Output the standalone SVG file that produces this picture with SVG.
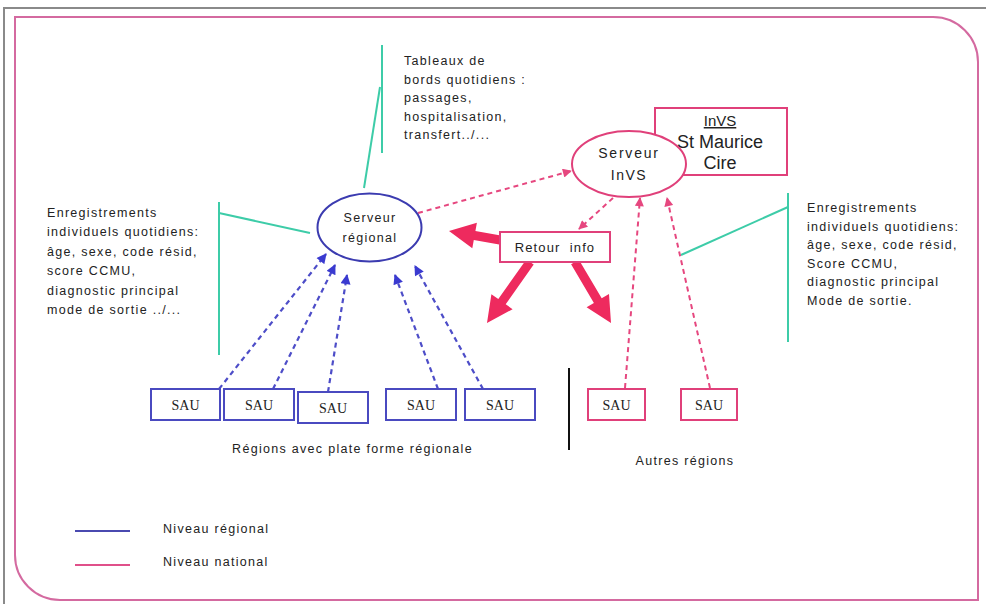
<svg xmlns="http://www.w3.org/2000/svg" width="986" height="604" viewBox="0 0 986 604">
<defs>
<style>
.t{font-family:"Liberation Sans",Arial,sans-serif;font-size:12.5px;fill:#222;letter-spacing:1.3px}
.sau{font-family:"Liberation Serif","Times New Roman",serif;font-size:14px;fill:#222}
.bbox{fill:#fff;stroke:#4a4ac0;stroke-width:2}
.pbox{fill:#fff;stroke:#e0407a;stroke-width:2}
.teal{stroke:#3dcca8;stroke-width:2;fill:none}
.bd{stroke:#4d4dc8;stroke-width:2.2;stroke-dasharray:5 4;fill:none;marker-end:url(#hb)}
.pd{stroke:#e6477f;stroke-width:2;stroke-dasharray:5 4;fill:none;marker-end:url(#hp)}
.thick{fill:#ee2a5e}
.big{font-family:"Liberation Sans",Arial,sans-serif;fill:#222}
</style>
<marker id="hb" viewBox="0 0 10 10" refX="9" refY="5" markerWidth="11" markerHeight="10" markerUnits="userSpaceOnUse" orient="auto"><path d="M0,0 L10,5 L0,10 z" fill="#3a3ad0"/></marker>
<marker id="hp" viewBox="0 0 10 10" refX="9" refY="5" markerWidth="11" markerHeight="9" markerUnits="userSpaceOnUse" orient="auto"><path d="M0,0 L10,5 L0,10 z" fill="#e6477f"/></marker>
</defs>
<rect width="986" height="604" fill="#fff"/>
<path d="M4,604 V8 H986" fill="none" stroke="#8a8a8a" stroke-width="2"/>
<path d="M15,17 H933 A45,45 0 0 1 978,62 V600 H60 A45,45 0 0 1 15,555 Z" fill="none" stroke="#d46aa0" stroke-width="2"/>

<g id="connectors">
<line class="teal" x1="382" y1="45" x2="382" y2="153"/>
<line class="teal" x1="380" y1="87" x2="364" y2="188"/>
<line class="teal" x1="219" y1="202" x2="219" y2="355"/>
<line class="teal" x1="219" y1="213" x2="310" y2="233"/>
<line class="teal" x1="788" y1="193" x2="788" y2="342"/>
<line class="teal" x1="788" y1="207" x2="681" y2="255"/>
<line x1="569" y1="368" x2="569" y2="450" stroke="#111" stroke-width="2"/>
<line class="bd" x1="219" y1="389" x2="326" y2="254"/>
<line class="bd" x1="273" y1="389" x2="335" y2="265"/>
<line class="bd" x1="328" y1="392" x2="347" y2="275"/>
<line class="bd" x1="438" y1="389" x2="395" y2="275"/>
<line class="bd" x1="483" y1="389" x2="415" y2="266"/>
<line class="pd" x1="418" y1="213" x2="571" y2="171"/>
<line class="pd" x1="613" y1="198" x2="579" y2="229"/>
<line class="pd" x1="625" y1="388" x2="640" y2="198"/>
<line class="pd" x1="710" y1="388" x2="667" y2="198"/>
<polygon class="thick" points="500.8,235.6 475.4,231.1 476.9,222.7 449,231 472.3,248.3 473.8,239.9 499.2,244.4"/>
<polygon class="thick" points="526.3,259.4 498.3,299.1 491.4,294.2 487,323 512.6,309.2 505.7,304.3 533.7,264.6"/>
<polygon class="thick" points="571.1,264.3 593.9,302.9 586.6,307.2 611,323 609,294 601.7,298.3 578.9,259.7"/>
</g>

<g id="txt-tableaux">
<text class="t" x="404" y="65">Tableaux de</text>
<text class="t" x="404" y="83.5">bords quotidiens :</text>
<text class="t" x="404" y="102">passages,</text>
<text class="t" x="404" y="120.5">hospitalisation,</text>
<text class="t" x="404" y="139">transfert../...</text>
</g>

<g id="txt-left">
<text class="t" x="47" y="217">Enregistrements</text>
<text class="t" x="47" y="236.4">individuels quotidiens:</text>
<text class="t" x="47" y="255.8">âge, sexe, code résid,</text>
<text class="t" x="47" y="275.2">score CCMU,</text>
<text class="t" x="47" y="294.6">diagnostic principal</text>
<text class="t" x="47" y="314">mode de sortie ../...</text>
</g>

<g id="txt-right">
<text class="t" x="807" y="212">Enregistrements</text>
<text class="t" x="807" y="230.6">individuels quotidiens:</text>
<text class="t" x="807" y="249.2">âge, sexe, code résid,</text>
<text class="t" x="807" y="267.8">Score CCMU,</text>
<text class="t" x="807" y="286.4">diagnostic principal</text>
<text class="t" x="807" y="305">Mode de sortie.</text>
</g>

<g id="serveur-regional">
<ellipse cx="369.5" cy="227.5" rx="52" ry="34" fill="#fff" stroke="#3b3bb0" stroke-width="2"/>
<text class="t" x="370" y="222" text-anchor="middle">Serveur</text>
<text class="t" x="370" y="242" text-anchor="middle">régional</text>
</g>

<g id="invs-box">
<rect x="655" y="108" width="132" height="67" class="pbox"/>
<text class="big" x="720" y="126" text-anchor="middle" font-size="15" text-decoration="underline">InVS</text>
<text class="big" x="720" y="148" text-anchor="middle" font-size="18">St Maurice</text>
<text class="big" x="720" y="169" text-anchor="middle" font-size="18">Cire</text>
</g>

<g id="serveur-invs">
<ellipse cx="629" cy="164" rx="57" ry="33" fill="#fff" stroke="#e0407a" stroke-width="2"/>
<text class="big" x="629" y="158" text-anchor="middle" font-size="14" letter-spacing="1.8">Serveur</text>
<text class="big" x="629" y="180" text-anchor="middle" font-size="14" letter-spacing="1.5">InVS</text>
</g>

<g id="retour-info">
<rect x="500" y="232" width="110" height="30" class="pbox"/>
<text class="big" x="555" y="252" text-anchor="middle" font-size="13" letter-spacing="1.1" xml:space="preserve">Retour  info</text>
</g>

<g id="sau1"><rect x="151" y="389" width="69" height="31" class="bbox"/><text class="sau" x="185.5" y="410" text-anchor="middle">SAU</text></g>
<g id="sau2"><rect x="224" y="389" width="70" height="31" class="bbox"/><text class="sau" x="259" y="410" text-anchor="middle">SAU</text></g>
<g id="sau3"><rect x="298" y="392" width="70" height="31" class="bbox"/><text class="sau" x="333" y="413" text-anchor="middle">SAU</text></g>
<g id="sau4"><rect x="386" y="389" width="70" height="31" class="bbox"/><text class="sau" x="421" y="410" text-anchor="middle">SAU</text></g>
<g id="sau5"><rect x="465" y="389" width="70" height="31" class="bbox"/><text class="sau" x="500" y="410" text-anchor="middle">SAU</text></g>
<g id="sau6"><rect x="588" y="389" width="57" height="31" class="pbox"/><text class="sau" x="616.5" y="410" text-anchor="middle">SAU</text></g>
<g id="sau7"><rect x="681" y="389" width="56" height="31" class="pbox"/><text class="sau" x="709" y="410" text-anchor="middle">SAU</text></g>

<g id="labels">
<text class="t" x="352.5" y="453" text-anchor="middle">Régions avec plate forme régionale</text>
<text class="t" x="685" y="465" text-anchor="middle">Autres régions</text>
</g>

<g id="legend">
<line x1="75" y1="531" x2="130" y2="531" stroke="#4a4ab0" stroke-width="2"/>
<line x1="75" y1="565" x2="130" y2="565" stroke="#e0508a" stroke-width="2"/>
<text class="t" x="163" y="533">Niveau régional</text>
<text class="t" x="163" y="566">Niveau national</text>
</g>
</svg>
